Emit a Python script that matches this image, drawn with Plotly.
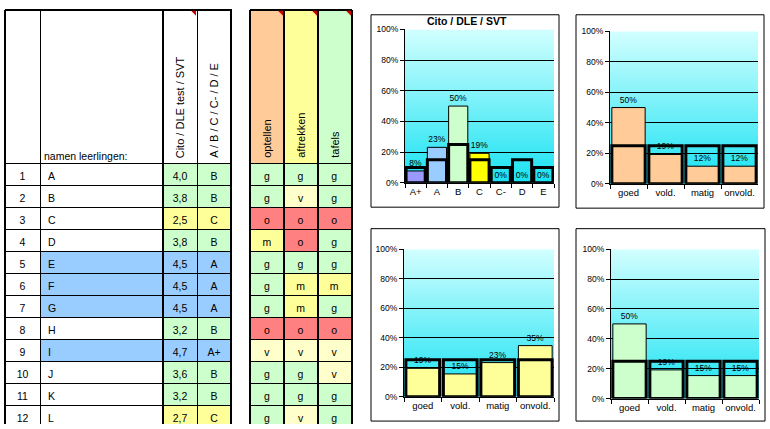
import base64
import plotly.graph_objects as go

W, H = 770, 429

# ---------------- table data ----------------
row_nums = list(range(1, 13))
names = ["A", "B", "C", "D", "E", "F", "G", "H", "I", "J", "K", "L"]
scores = [4.0, 3.8, 2.5, 3.8, 4.5, 4.5, 4.5, 3.2, 4.7, 3.6, 3.2, 2.7]
grades = ["B", "B", "C", "B", "A", "A", "A", "B", "A+", "B", "B", "C"]
optellen = ["g", "g", "o", "m", "g", "g", "g", "o", "v", "g", "g", "g"]
aftrekken = ["g", "v", "o", "o", "g", "m", "m", "o", "v", "g", "g", "v"]
tafels = ["g", "g", "o", "g", "g", "m", "g", "o", "v", "v", "g", "g"]
header_left = ["", "namen leerlingen:", "Cito / DLE test / SVT", "A / B / C / C- / D / E"]
header_right = ["optellen", "aftrekken", "tafels"]

# ---------------- chart data ----------------
cito_title = "Cito / DLE / SVT"
cito_cats = ["A+", "A", "B", "C", "C-", "D", "E"]
cito_pct = [7.7, 23.1, 50.0, 19.2, 0, 0, 0]
cito_norm = [10, 15, 25, 15, 10, 15, 10]
level_cats = ["goed", "vold.", "matig", "onvold."]
optellen_pct = [50.0, 19.2, 11.5, 11.5]
aftrekken_pct = [19.2, 15.4, 23.1, 34.6]
tafels_pct = [50.0, 19.2, 15.4, 15.4]
level_norm = [25, 25, 25, 25]
y_ticks = [0, 20, 40, 60, 80, 100]
y_ticktext = [f"{v}%" for v in y_ticks]

# ---------------- styles ----------------
FONT = "Liberation Sans, Arial, sans-serif"
grade_color = {"A+": "#99CCFF", "A": "#99CCFF", "B": "#CCFFCC", "C": "#FFFF99",
               "C-": "#FFFF99", "D": "#FF8080", "E": "#FF8080"}
letter_color = {"g": "#CCFFCC", "v": "#FFFFCC", "m": "#FFFF99", "o": "#FF8080"}
cito_bar_colors = ["#9999FF", "#99CCFF", "#CCFFCC", "#FFFF00", "#FFCC00", "#FF9900", "#FF6600"]


def px(x):
    return x / W


def py(y):
    return 1 - y / H


fig = go.Figure()

# ---------------- table 1 ----------------
score_txt = [f"{s:.1f}".replace(".", ",") for s in scores]
name_fill = ["#99CCFF" if g.startswith("A") else "white" for g in grades]
gfill = [grade_color[g] for g in grades]
fig.add_trace(go.Table(
    domain=dict(x=[px(5), px(231)], y=[0, py(5)]),
    columnwidth=[35, 123, 34, 34],
    header=dict(values=["", "", "", ""], height=154, fill_color="white",
                line=dict(color="black", width=1)),
    cells=dict(values=[row_nums, names, score_txt, grades], height=22,
               align=["center", "left", "center", "center"],
               fill_color=[["white"] * 12, name_fill, gfill, gfill],
               line=dict(color="black", width=1),
               font=dict(family=FONT, size=10.5, color="black")),
))

# ---------------- table 2 ----------------
fig.add_trace(go.Table(
    domain=dict(x=[px(250), px(352)], y=[0, py(5)]),
    columnwidth=[34, 34, 34],
    header=dict(values=["", "", ""], height=154,
                fill_color=["#FFCC99", "#FFFF99", "#CCFFCC"],
                line=dict(color="black", width=1)),
    cells=dict(values=[optellen, aftrekken, tafels], height=22, align="center",
               fill_color=[[letter_color[v] for v in col] for col in (optellen, aftrekken, tafels)],
               line=dict(color="black", width=1),
               font=dict(family=FONT, size=10.5, color="black")),
))

shapes = []
annotations = []

# thick borders
for x in (5, 163, 231, 250, 284, 318, 352):
    shapes.append(dict(type="line", xref="paper", yref="paper", x0=px(x), x1=px(x),
                       y0=py(5), y1=0, line=dict(color="black", width=2)))
for (a, b) in ((5, 231), (250, 352)):
    shapes.append(dict(type="line", xref="paper", yref="paper", x0=px(a), x1=px(b),
                       y0=py(5), y1=py(5), line=dict(color="black", width=2)))
# comment markers
for xr in (197, 284, 318, 352):
    x1 = xr - 1
    shapes.append(dict(type="path", xref="paper", yref="paper",
                       path=f"M {px(x1-5)},{py(6)} L {px(x1)},{py(6)} L {px(x1)},{py(11)} Z",
                       fillcolor="#CC0000", line=dict(width=0)))

# header texts
annotations.append(dict(text=header_left[1], x=px(42), y=py(155), xref="paper", yref="paper",
                        xanchor="left", yanchor="middle", showarrow=False,
                        font=dict(family=FONT, size=10.5, color="black")))
for txt, xc in ((header_left[2], 180), (header_left[3], 214),
                (header_right[0], 267), (header_right[1], 301), (header_right[2], 335)):
    annotations.append(dict(text=txt, x=px(xc), y=py(159), xref="paper", yref="paper",
                            xanchor="center", yanchor="bottom", textangle=-90, showarrow=False,
                            font=dict(family=FONT, size=11, color="black")))

# ---------------- charts ----------------
svg = ('<svg xmlns="http://www.w3.org/2000/svg" width="10" height="100" viewBox="0 0 10 100" '
       'preserveAspectRatio="none"><defs><linearGradient id="g" x1="0" y1="0" x2="0" y2="1">'
       '<stop offset="0" stop-color="#D2FFFF"/><stop offset="1" stop-color="#18E2F2"/>'
       '</linearGradient></defs><rect width="10" height="100" fill="url(#g)"/></svg>')
grad_src = "data:image/svg+xml;base64," + base64.b64encode(svg.encode()).decode()

charts = [
    (cito_cats, cito_pct, cito_norm, cito_bar_colors, (405, 554, 25, 182), (371, 559, 10, 207)),
    (level_cats, optellen_pct, level_norm, "#FFCC99", (610, 758, 27, 183), (576, 764, 10, 208)),
    (level_cats, aftrekken_pct, level_norm, "#FFFF99", (404, 554, 250, 401), (371, 559, 229, 426)),
    (level_cats, tafels_pct, level_norm, "#CCFFCC", (611, 759, 250, 403), (576, 765, 229, 426)),
]

images = []
for i, (cats, vals, norm, col, (l, r, t, b), (bl, br, bt, bb)) in enumerate(charts, start=1):
    sx = "" if i == 1 else str(i)
    xa, ya = "x" + sx, "y" + sx
    fig.add_trace(go.Bar(x=cats, y=vals, xaxis=xa, yaxis=ya,
                         marker=dict(color=col, line=dict(color="black", width=1)),
                         texttemplate="%{y:.0f}%", textposition="outside", cliponaxis=False,
                         constraintext="none",
                         textfont=dict(family=FONT, size=8.5, color="black"),
                         hoverinfo="x+y", showlegend=False))
    fig.add_trace(go.Bar(x=cats, y=norm, xaxis=xa, yaxis=ya,
                         marker=dict(color="rgba(0,0,0,0)", line=dict(color="black", width=3)),
                         hoverinfo="skip", showlegend=False))
    fig.layout["xaxis" + sx] = dict(domain=[px(l), px(r)], anchor=ya, type="category",
                                    showline=True, linecolor="black", linewidth=1,
                                    ticks="outside", tickson="boundaries", ticklen=4,
                                    tickcolor="black", showgrid=False, fixedrange=True,
                                    tickangle=0,
                                    tickfont=dict(family=FONT, size=9.5, color="black"))
    fig.layout["yaxis" + sx] = dict(domain=[py(b), py(t)], anchor=xa, range=[0, 100],
                                    tickvals=y_ticks, ticktext=y_ticktext,
                                    showgrid=True, gridcolor="black", gridwidth=1,
                                    showline=True, linecolor="black", linewidth=1,
                                    ticks="outside", ticklen=4, tickcolor="black",
                                    zeroline=False, fixedrange=True,
                                    tickfont=dict(family=FONT, size=8.5, color="black"))
    images.append(dict(source=grad_src, xref=xa + " domain", yref=ya + " domain",
                       x=0, y=1, sizex=1, sizey=1, xanchor="left", yanchor="top",
                       sizing="stretch", layer="below"))
    shapes.append(dict(type="rect", xref="paper", yref="paper", x0=px(bl), x1=px(br),
                       y0=py(bb), y1=py(bt), line=dict(color="black", width=1),
                       fillcolor="white", layer="below"))

annotations.append(dict(text="<b>" + cito_title + "</b>", x=px(467), y=py(16), xref="paper",
                        yref="paper", xanchor="center", yanchor="middle", showarrow=False,
                        font=dict(family=FONT, size=10.5, color="black")))

fig.update_layout(
    width=W, height=H, margin=dict(l=0, r=0, t=0, b=0),
    paper_bgcolor="white", plot_bgcolor="#7FEFFA",
    barmode="overlay", bargap=0.1,
    shapes=shapes, annotations=annotations, images=images,
    showlegend=False, font=dict(family=FONT, color="black"),
)

fig.write_html("out.html", config={"displayModeBar": False},
               post_script="document.body.style.margin='0';")
